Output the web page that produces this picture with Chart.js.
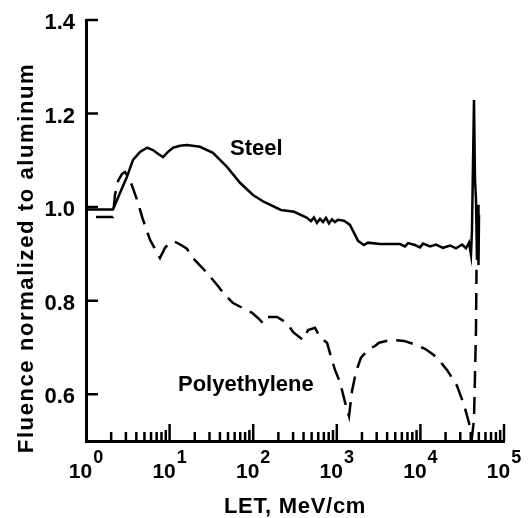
<!DOCTYPE html>
<html>
<head>
<meta charset="utf-8">
<script src="https://cdn.jsdelivr.net/npm/chart.js@4.4.1/dist/chart.umd.min.js"></script>
<style>
  html,body{margin:0;padding:0;background:#fff;}
  canvas{display:block;}
</style>
</head>
<body>
<canvas id="letChart" width="528" height="518"></canvas>
<script>
// LET (MeV/cm) and fluence ratio
const steelLet = [1, 2.1, 2.55, 3.09, 3.65, 4.43, 5.37, 6.32, 7.26, 8.34, 9.57, 11.0, 13.3, 16.1, 23.1, 33.0, 48.6, 69.5, 99.5, 135, 215, 308, 441, 491, 533, 579, 630, 684, 743, 807, 877, 951, 1033, 1219, 1439, 1607, 1795, 2113, 2360, 3289, 5702, 6546, 7112, 8610, 9886, 10740, 13030, 15380, 18620, 22590, 26670, 31480, 35080, 38110, 40270, 41400, 43750, 44980, 46240, 47530, 48870, 49550, 50230];
const steelFluence = [0.995, 0.995, 1.030, 1.065, 1.101, 1.118, 1.127, 1.122, 1.114, 1.107, 1.118, 1.127, 1.131, 1.133, 1.129, 1.116, 1.086, 1.052, 1.026, 1.011, 0.994, 0.990, 0.977, 0.970, 0.978, 0.966, 0.975, 0.968, 0.977, 0.965, 0.974, 0.968, 0.973, 0.971, 0.962, 0.945, 0.928, 0.919, 0.924, 0.921, 0.921, 0.916, 0.923, 0.919, 0.914, 0.922, 0.916, 0.920, 0.913, 0.918, 0.912, 0.920, 0.912, 0.924, 0.898, 0.951, 1.229, 1.058, 1.016, 0.887, 1.005, 0.876, 0.983];

const polyLet = [1, 2.1, 2.22, 2.42, 2.70, 2.93, 3.36, 4.07, 4.81, 5.83, 7.67, 8.81, 10.1, 11.6, 13.7, 16.1, 19.1, 26.5, 36.9, 46.0, 57.3, 75.5, 96.8, 114, 131, 146, 193, 254, 299, 394, 453, 548, 630, 764, 853, 951, 1091, 1253, 1400, 1521, 1698, 1945, 2234, 2564, 2864, 3199, 4446, 6368, 9099, 11350, 13400, 15810, 20800, 27420, 33270, 38110, 41400, 43750, 46240, 46880];
const polyFluence = [0.979, 0.979, 1.026, 1.056, 1.071, 1.075, 1.058, 1.016, 0.973, 0.930, 0.891, 0.913, 0.924, 0.926, 0.919, 0.911, 0.891, 0.864, 0.834, 0.812, 0.795, 0.784, 0.774, 0.763, 0.752, 0.765, 0.765, 0.752, 0.733, 0.716, 0.737, 0.742, 0.722, 0.710, 0.680, 0.652, 0.626, 0.583, 0.553, 0.607, 0.648, 0.678, 0.690, 0.699, 0.703, 0.710, 0.716, 0.714, 0.705, 0.697, 0.688, 0.678, 0.652, 0.618, 0.577, 0.539, 0.509, 0.545, 0.737, 0.866];

const yTicks = [0.6, 0.8, 1.0, 1.2, 1.4];
const xDecades = [0, 1, 2, 3, 4, 5];

const FONT = '"Liberation Sans", Arial, sans-serif';

const toPoints = (xs, ys) => xs.map((v, i) => ({x: v, y: ys[i]}));

// inward ticks, labels with superscripts, axis titles and curve labels
const decor = {
  id: 'decor',
  afterDraw(chart) {
    const {ctx, chartArea: a, scales: {x, y}} = chart;
    ctx.save();
    ctx.strokeStyle = '#000';
    ctx.fillStyle = '#000';
    ctx.lineWidth = 2.5;
    ctx.beginPath();
    yTicks.forEach(v => {
      const py = y.getPixelForValue(v);
      ctx.moveTo(a.left, py); ctx.lineTo(a.left + 12, py);
    });
    xDecades.forEach(e => {
      const base = Math.pow(10, e);
      const px = x.getPixelForValue(base);
      if (e > 0) { ctx.moveTo(px, a.bottom); ctx.lineTo(px, a.bottom - 17); }
      if (e < 5) {
        for (let m = 2; m <= 9; m++) {
          const mx = x.getPixelForValue(base * m);
          ctx.moveTo(mx, a.bottom); ctx.lineTo(mx, a.bottom - (m === 9 ? 11 : 9));
        }
      }
    });
    ctx.stroke();

    // y tick labels
    ctx.font = 'bold 22px ' + FONT;
    ctx.textAlign = 'right';
    ctx.textBaseline = 'middle';
    yTicks.forEach(v => ctx.fillText(v.toFixed(1), a.left - 11, y.getPixelForValue(v) + 3));

    // x tick labels 10^n
    ctx.textBaseline = 'alphabetic';
    ctx.textAlign = 'left';
    xDecades.forEach(e => {
      const px = x.getPixelForValue(Math.pow(10, e));
      ctx.font = 'bold 21px ' + FONT;
      const w1 = ctx.measureText('10').width;
      ctx.font = 'bold 18px ' + FONT;
      const w2 = ctx.measureText(String(e)).width;
      const start = px - (w1 + 1 + w2) / 2;
      ctx.font = 'bold 21px ' + FONT;
      ctx.fillText('10', start, a.bottom + 37);
      ctx.font = 'bold 18px ' + FONT;
      ctx.fillText(String(e), start + w1 + 1, a.bottom + 22);
    });

    // axis titles
    ctx.font = 'bold 22px ' + FONT;
    ctx.textAlign = 'center';
    ctx.textBaseline = 'middle';
    ctx.letterSpacing = '0.7px';
    ctx.fillText('LET, MeV/cm', 295, 507);
    ctx.save();
    ctx.translate(27, 258);
    ctx.rotate(-Math.PI / 2);
    ctx.letterSpacing = '1.6px';
    ctx.fillText('Fluence normalized to aluminum', 0, 0);
    ctx.restore();
    ctx.letterSpacing = '0px';

    // curve labels
    ctx.textAlign = 'left';
    ctx.textBaseline = 'alphabetic';
    ctx.fillText('Steel', 230, 155);
    ctx.fillText('Polyethylene', 178, 391);
    ctx.restore();
  }
};

new Chart(document.getElementById('letChart'), {
  type: 'line',
  data: {
    datasets: [
      {label: 'Steel', data: toPoints(steelLet, steelFluence), borderColor: '#000', borderWidth: 2.5, pointRadius: 0, tension: 0},
      {label: 'Polyethylene', data: toPoints(polyLet, polyFluence), borderColor: '#000', borderWidth: 2.5, borderDash: [17, 9], borderDashOffset: -10, pointRadius: 0, tension: 0}
    ]
  },
  options: {
    responsive: false,
    animation: false,
    devicePixelRatio: 1,
    layout: {padding: {left: 86, right: 24, top: 20, bottom: 77}},
    plugins: {legend: {display: false}, tooltip: {enabled: false}},
    scales: {
      x: {
        type: 'logarithmic', min: 1, max: 100000,
        ticks: {display: false},
        grid: {display: true, drawOnChartArea: false, drawTicks: false},
        border: {display: true, color: '#000', width: 3}
      },
      y: {
        type: 'linear', min: 0.5, max: 1.4,
        ticks: {display: false},
        grid: {display: true, drawOnChartArea: false, drawTicks: false},
        border: {display: true, color: '#000', width: 3}
      }
    }
  },
  plugins: [decor]
});
</script>
</body>
</html>
